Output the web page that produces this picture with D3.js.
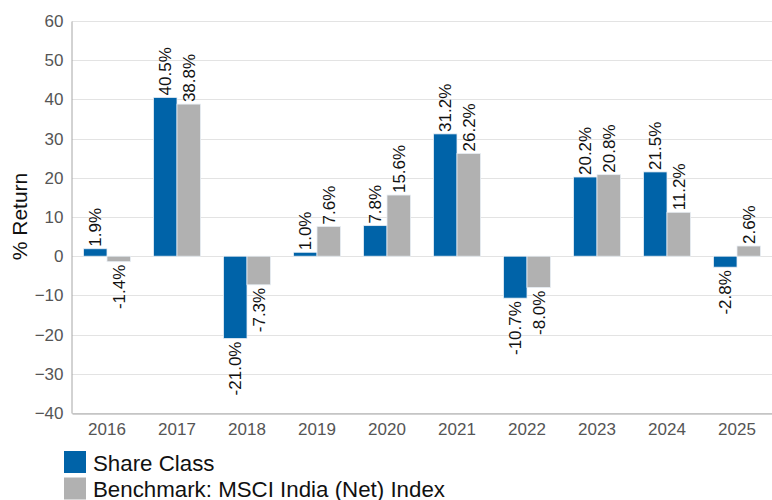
<!DOCTYPE html>
<html>
<head>
<meta charset="utf-8">
<script src="https://cdn.jsdelivr.net/npm/d3@7"></script>
<style>
  body { margin: 0; background: #fff; }
  svg { font-family: "Liberation Sans", Arial, sans-serif; }
</style>
</head>
<body>
<div id="chart"></div>
<script>
// chart data
const years = ["2016", "2017", "2018", "2019", "2020", "2021", "2022", "2023", "2024", "2025"];
const shareClass = [1.9, 40.5, -21.0, 1.0, 7.8, 31.2, -10.7, 20.2, 21.5, -2.8];
const benchmark = [-1.4, 38.8, -7.3, 7.6, 15.6, 26.2, -8.0, 20.8, 11.2, 2.6];
const seriesNames = ["Share Class", "Benchmark: MSCI India (Net) Index"];
const seriesColors = ["#0063a8", "#b1b1b1"];
const yTicks = [-40, -30, -20, -10, 0, 10, 20, 30, 40, 50, 60];

const width = 772, height = 500;
const margin = { top: 21, right: 0, bottom: 87, left: 72 };

const svg = d3.select("#chart").append("svg")
  .attr("width", width)
  .attr("height", height);

// scales
const x = d3.scaleBand()
  .domain(years)
  .range([margin.left, width - margin.right])
  .paddingInner(0.33)
  .paddingOuter(0.165);

const x1 = d3.scaleBand()
  .domain([0, 1])
  .range([0, x.bandwidth()]);

const y = d3.scaleLinear()
  .domain([-40, 60])
  .range([height - margin.bottom, margin.top]);

// gridlines
svg.append("g")
  .selectAll("line")
  .data(yTicks)
  .join("line")
  .attr("x1", margin.left)
  .attr("x2", width - margin.right)
  .attr("y1", d => Math.round(y(d)) + 0.5)
  .attr("y2", d => Math.round(y(d)) + 0.5)
  .attr("stroke", "#e3e3e3");

// y axis
const yAxis = svg.append("g")
  .attr("transform", `translate(${margin.left - 0.5},0)`)
  .call(d3.axisLeft(y).tickValues(yTicks).tickSize(0).tickPadding(8));
yAxis.select(".domain").attr("stroke", "#a6a6a6");
yAxis.selectAll("text").style("font-size", "17px").attr("fill", "#555");

// x axis
const xAxis = svg.append("g")
  .attr("transform", `translate(0,${Math.round(y(-40)) + 0.5})`)
  .call(d3.axisBottom(x).tickSize(0).tickPadding(9));
xAxis.select(".domain").attr("stroke", "#a6a6a6");
xAxis.selectAll("text").style("font-size", "17px").attr("fill", "#555");

// bars
const rows = years.map((yr, i) => ({ year: yr, values: [shareClass[i], benchmark[i]] }));

const groups = svg.append("g")
  .selectAll("g")
  .data(rows)
  .join("g")
  .attr("transform", d => `translate(${x(d.year)},0)`);

groups.selectAll("rect")
  .data(d => d.values.map((v, s) => ({ v, s })))
  .join("rect")
  .attr("x", d => x1(d.s))
  .attr("y", d => y(Math.max(0, d.v)))
  .attr("width", x1.bandwidth())
  .attr("height", d => Math.abs(y(d.v) - y(0)))
  .attr("fill", d => seriesColors[d.s])
  .attr("stroke", "#e8eef4")
  .attr("stroke-width", 0.8);

// value labels
groups.selectAll("text")
  .data(d => d.values.map((v, s) => ({ v, s })))
  .join("text")
  .attr("transform", d => {
    const cx = x1(d.s) + x1.bandwidth() / 2;
    const cy = d.v >= 0 ? y(d.v) - 2 : y(d.v) + 3;
    return `translate(${cx},${cy}) rotate(-90)`;
  })
  .attr("text-anchor", d => d.v >= 0 ? "start" : "end")
  .attr("dy", "0.35em")
  .style("font-size", "17px")
  .attr("fill", "#111")
  .text(d => d.v.toFixed(1) + "%");

// y axis title
svg.append("text")
  .attr("transform", `translate(27,216.5) rotate(-90)`)
  .attr("text-anchor", "middle")
  .style("font-size", "21px")
  .attr("fill", "#111")
  .text("% Return");

// legend
const legend = svg.append("g")
  .selectAll("g")
  .data(seriesNames)
  .join("g")
  .attr("transform", (d, i) => `translate(64,${451 + i * 26.5})`);

legend.append("rect")
  .attr("width", 22)
  .attr("height", 22)
  .attr("fill", (d, i) => seriesColors[i]);

legend.append("text")
  .attr("x", 29)
  .attr("y", 19.5)
  .style("font-size", "22.3px")
  .attr("fill", "#111")
  .text(d => d);
</script>
</body>
</html>
